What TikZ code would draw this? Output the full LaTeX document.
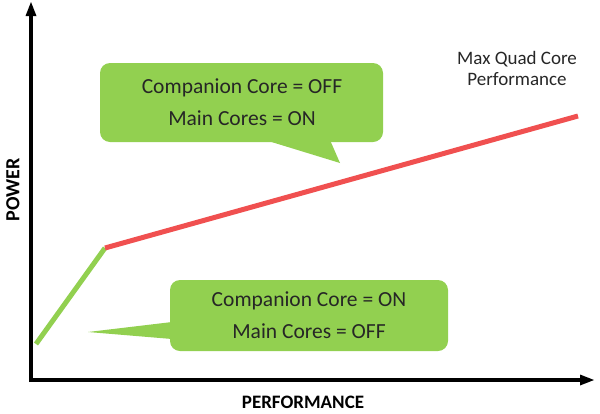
\documentclass[tikz,border=0pt]{standalone}
\usepackage{fontspec}
\setmainfont{Carlito}
\usetikzlibrary{arrows.meta}
\definecolor{cgreen}{HTML}{92D050}
\definecolor{cred}{HTML}{F05050}
\begin{document}
\begin{tikzpicture}[x=1pt,y=-1pt,
  bubble/.style={fill=cgreen,rounded corners=10pt},
  txt/.style={font=\fontsize{21.5}{32}\selectfont,text=black!85,align=center}]
\useasboundingbox (0,0) rectangle (600,413);
\draw[line width=4pt] (31,382) -- (31,8);
\fill (31,2) -- (25.5,16) -- (36.5,16) -- cycle;
\draw[line width=4pt] (29,380) -- (582,380);
\fill (594,380) -- (580,374.5) -- (580,385.5) -- cycle;
\coordinate (p0) at (36,344);
\coordinate (p1) at (105,248);
\coordinate (p2) at (578,116);
\draw[cgreen,line width=5pt] (p0) -- (p1);
\draw[cred,line width=5pt] (p1) -- (p2);
% bubble 1
\fill[bubble] (100,63) rectangle (383,142);
\fill[cgreen] (265,140) -- (340,163) -- (330,140) -- cycle;
\node[txt] (b1) at (242,102) {Companion Core = OFF\\Main Cores = ON};
% bubble 2
\fill[bubble] (170,280) rectangle (448,351);
\fill[cgreen] (172,322) -- (88,332) -- (172,339) -- cycle;
\node[txt] (b2) at (309,315) {Companion Core = ON\\Main Cores = OFF};
\node[font=\fontsize{19}{21}\selectfont,align=center,text=black!85] (mx) at (517,68) {Max Quad Core\\Performance};
\node[font=\bfseries\fontsize{19}{21}\selectfont] (xl) at (303,402) {PERFORMANCE};
\node[font=\bfseries\fontsize{20}{22}\selectfont,rotate=90] (yl) at (13,190) {POWER};
\end{tikzpicture}
\end{document}
